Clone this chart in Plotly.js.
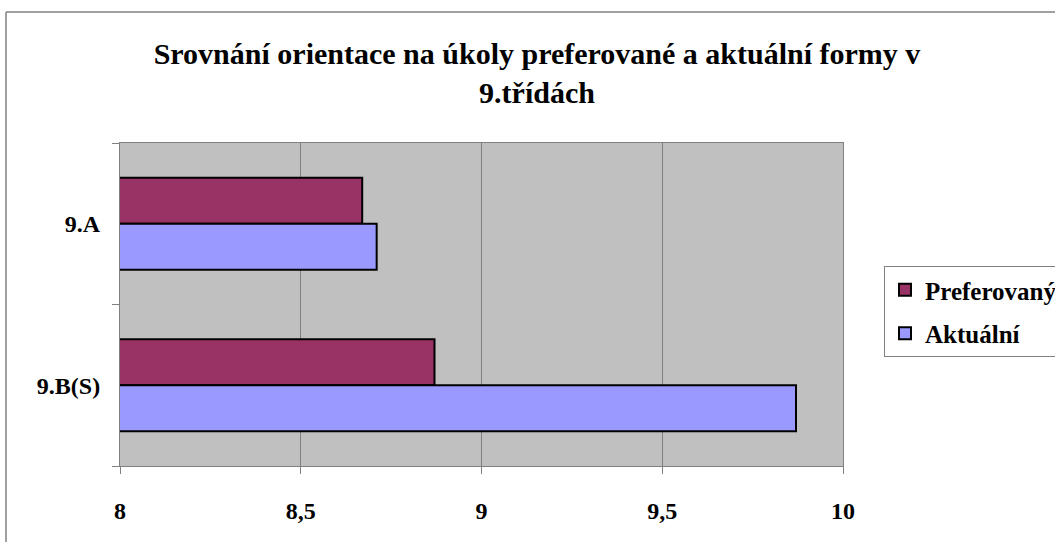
<!DOCTYPE html>
<html>
<head>
<meta charset="utf-8">
<script src="https://cdn.plot.ly/plotly-3.0.1.min.js"></script>
<style>
html,body{margin:0;padding:0;background:#fff;}
#chart{width:1055px;height:542px;}
#chart text{font-family:"Liberation Serif", "Times New Roman", serif !important;}
</style>
</head>
<body>
<div id="chart"></div>
<script>
var categories = ["9.A", "9.B(S)"];
var seriesNames = ["Preferovaný", "Aktuální"];
var preferovany = [8.67, 8.87];
var aktualni = [8.71, 9.87];
var xTickVals = [8, 8.5, 9, 9.5, 10];
var xTickText = ["8", "8,5", "9", "9,5", "10"];
var titleText = "Srovnání orientace na úkoly preferované a aktuální formy v<br>9.třídách";

var W = 1055, H = 542;
var M = {l: 120, r: 212, t: 143, b: 76, autoexpand: false};
var pw = W - M.l - M.r, ph = H - M.t - M.b;
function px2x(p){ return (p - M.l) / pw; }
function py2y(p){ return (H - M.b - p) / ph; }

var SERIF_FAMILY = "Liberation Serif, Times New Roman, serif";
function bold(s){ return "<b>" + s + "</b>"; }
function mkFont(sz){ return {family: SERIF_FAMILY, size: sz, color: "#000000"}; }

var traces = [
  {
    type: "bar", orientation: "h", name: bold(seriesNames[0]),
    y: categories, x: preferovany, legendgroup: "g1",
    marker: {color: "#993366", line: {color: "#000000", width: 2}}
  },
  {
    type: "bar", orientation: "h", name: bold(seriesNames[1]),
    y: categories, x: aktualni, legendgroup: "g2",
    marker: {color: "#9999FF", line: {color: "#000000", width: 2}}
  }
];

var layout = {
  width: W, height: H,
  margin: M,
  paper_bgcolor: "#ffffff",
  plot_bgcolor: "#C0C0C0",
  separators: ", ",
  barmode: "group",
  bargap: 0.43,
  bargroupgap: 0,
  font: mkFont(24),
  title: {
    text: bold(titleText),
    font: mkFont(30),
    x: 537 / W, xref: "container", xanchor: "center",
    y: 1 - 64 / H, yref: "container", yanchor: "top"
  },
  xaxis: {
    range: [8, 10],
    tickvals: xTickVals, ticktext: xTickText.map(bold),
    ticks: "outside", ticklen: 7, tickcolor: "#808080", tickwidth: 1,
    showgrid: true, gridcolor: "#808080", gridwidth: 1,
    showline: true, linecolor: "#808080", linewidth: 1, mirror: true,
    zeroline: false,
    tickfont: mkFont(24),
    ticklabelstandoff: 16,
    fixedrange: true
  },
  yaxis: {
    type: "category",
    categoryorder: "array", categoryarray: categories,
    autorange: "reversed",
    tickson: "boundaries",
    ticks: "outside", ticklen: 7, tickcolor: "#808080", tickwidth: 1,
    tickvals: categories,
    ticktext: categories.map(bold),
    showgrid: false,
    showline: true, linecolor: "#808080", linewidth: 1, mirror: true,
    tickfont: mkFont(24),
    ticklabelstandoff: 14,
    fixedrange: true
  },
  showlegend: true,
  legend: {
    x: px2x(884), y: py2y(266), xanchor: "left", yanchor: "top",
    bgcolor: "#ffffff", bordercolor: "#808080", borderwidth: 1,
    font: mkFont(25),
    traceorder: "grouped",
    itemwidth: 30, tracegroupgap: 8
  },
  shapes: [
    {type: "line", xref: "paper", yref: "paper",
     x0: px2x(6), x1: px2x(W + 5), y0: py2y(12), y1: py2y(12),
     line: {color: "#808080", width: 1.5}},
    {type: "line", xref: "paper", yref: "paper",
     x0: px2x(6), x1: px2x(6), y0: py2y(12), y1: py2y(H + 5),
     line: {color: "#808080", width: 1.5}}
  ]
};

Plotly.newPlot("chart", traces, layout, {displayModeBar: false, staticPlot: true});
</script>
</body>
</html>
